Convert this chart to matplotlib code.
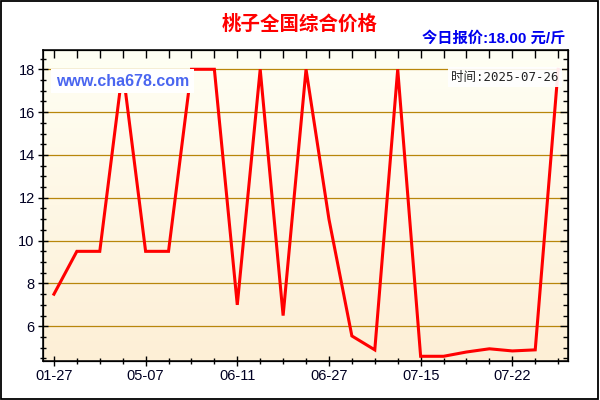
import numpy as np
import matplotlib
matplotlib.use('Agg')
import matplotlib.pyplot as plt
from matplotlib.colors import LinearSegmentedColormap
from matplotlib.patches import Rectangle
from matplotlib.ticker import MultipleLocator

# price per point (yuan / jin), points are equally spaced
prices = [7.5, 9.5, 9.5, 18, 9.5, 9.5, 18, 18, 7, 18, 6.5, 18, 11.0,
          5.55, 4.9, 18, 4.6, 4.6, 4.8, 4.95, 4.85, 4.9, 18]
tick_idx = [0, 4, 8, 12, 16, 20]
tick_labels = ['01-27', '05-07', '06-11', '06-27', '07-15', '07-22']
title = '桃子全国综合价格'
today = '今日报价:18.00 元/斤'
date_text = '时间:2025-07-26'
site = 'www.cha678.com'

x = np.arange(len(prices))
W, H = 600, 400

fig = plt.figure(figsize=(6, 4), dpi=100, facecolor='white')
ax = fig.add_axes([42.7 / W, 1 - 361 / H, (568 - 42.7) / W, (361 - 50) / H])
xlim = (-0.49, 22.43)
ylim = (4.38, 18.9)

# background gradient, light at top to peach at bottom
grad = np.linspace(0, 1, 256).reshape(-1, 1)
cmap = LinearSegmentedColormap.from_list('bg', ['#fffff4', '#fdefd6'])
ax.imshow(grad, extent=[xlim[0], xlim[1], ylim[0], ylim[1]], aspect='auto',
          cmap=cmap, zorder=0)

for v in range(6, 19, 2):
    ax.axhline(v, color='#b8860b', lw=0.9, zorder=1)

ax.plot(x, prices, color='#ff0000', lw=2.2, zorder=3, solid_joinstyle='miter')

ax.set_xlim(xlim)
ax.set_ylim(ylim)
ax.set_xticks(tick_idx)
ax.set_xticklabels(tick_labels)
ax.set_xticks(x, minor=True)
ax.yaxis.set_major_locator(MultipleLocator(2))
ax.yaxis.set_minor_locator(MultipleLocator(0.5))
ax.tick_params(which='major', direction='inout', length=7.5, width=1,
               labelsize=10.5, labelcolor='#000022', pad=2)
ax.tick_params(which='minor', direction='inout', length=3.8, width=1)
for lab in ax.get_xticklabels() + ax.get_yticklabels():
    lab.set_fontfamily('Liberation Sans')
for s in ax.spines.values():
    s.set_linewidth(1.1)

# inward ticks on right and top
axr = ax.twinx()
axr.set_ylim(ylim)
axr.yaxis.set_major_locator(MultipleLocator(2))
axr.yaxis.set_minor_locator(MultipleLocator(0.5))
axr.tick_params(which='major', direction='in', length=5.5, width=1, labelright=False)
axr.tick_params(which='minor', direction='in', length=3.5, width=1)
axt = ax.twiny()
axt.set_xlim(xlim)
axt.set_xticks(x)
axt.tick_params(direction='in', length=5.5, width=1, labeltop=False)

fig.text(300 / W, 1 - 24 / H, title, color='#ff0000', fontsize=14,
         fontweight='bold', family=['Noto Sans CJK SC'], ha='center', va='center')
fig.text(565 / W, 1 - 38.7 / H, today, color='#0000ee', fontsize=11,
         fontweight='bold', family=['Liberation Sans', 'Noto Sans CJK SC'],
         ha='right', va='center')
fig.text(122.5 / W, 1 - 81 / H, site, color='#4a66f0', fontsize=11.5,
         fontweight='bold', family=['Liberation Sans'], ha='center', va='center',
         bbox=dict(facecolor='white', edgecolor='none', pad=3.2))
fig.text(505 / W, 1 - 77 / H, date_text, color='#222222', fontsize=9,
         family=['DejaVu Sans Mono', 'Noto Sans CJK SC'], ha='center', va='center',
         bbox=dict(facecolor='white', edgecolor='none', pad=2.5, alpha=0.92))

fig.patches.append(Rectangle((0.5 / W, 1.5 / H), 597 / W, 397.5 / H,
                             transform=fig.transFigure, fill=False,
                             edgecolor='black', lw=1.3))

fig.savefig('out.png', dpi=100)
